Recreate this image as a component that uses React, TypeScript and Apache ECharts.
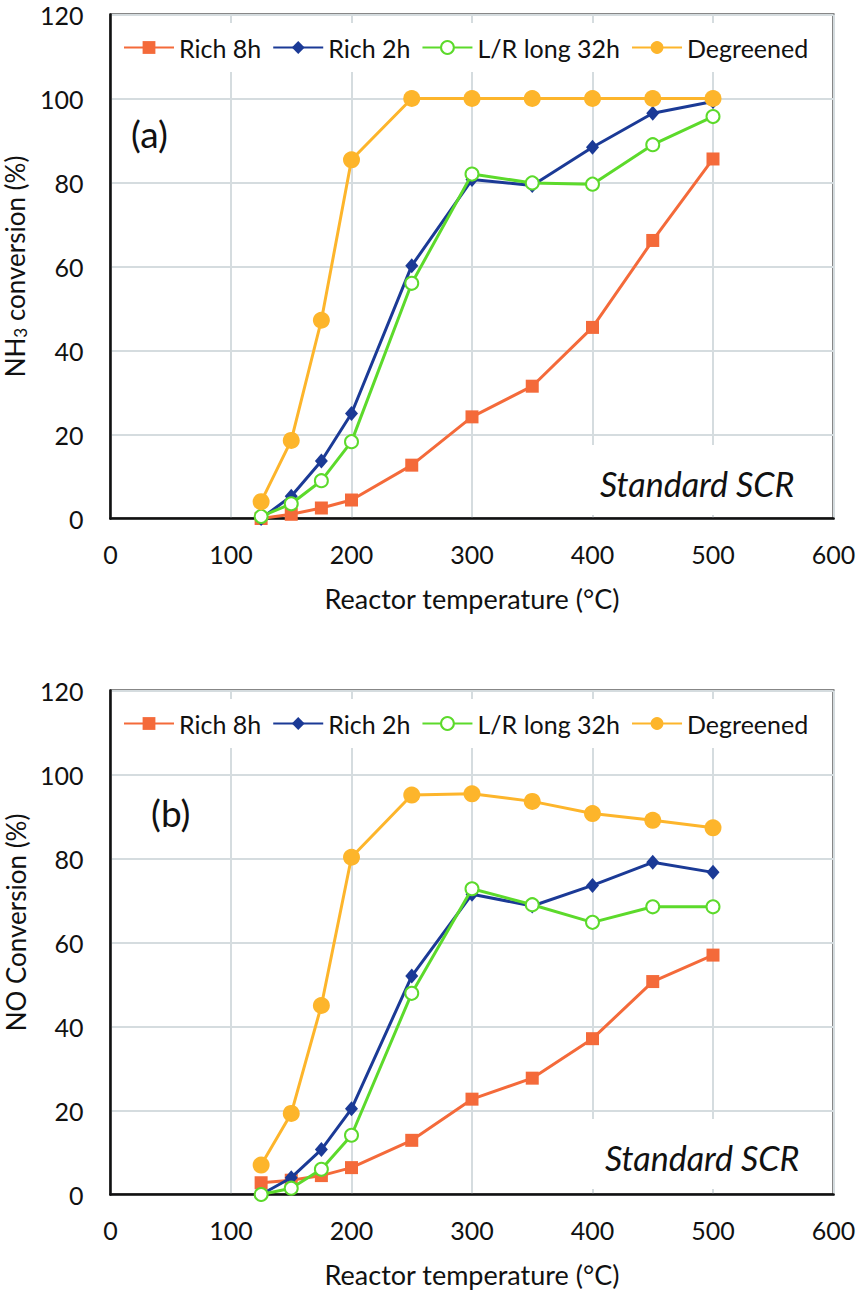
import React, { useEffect, useRef } from "react";
import * as echarts from "echarts";

const temps = [125, 150, 175, 200, 250, 300, 350, 400, 450, 500];
const seriesNames = ["Rich 8h", "Rich 2h", "L/R long 32h", "Degreened"];

// (a) NH3 conversion
const rich8hA = [0, 1, 2.5, 4.4, 12.7, 24.2, 31.5, 45.5, 66.2, 85.6];
const rich2hA = [0, 5.3, 13.7, 25, 60.2, 80.7, 79.3, 88.4, 96.5, 99.3];
const lrA = [0.5, 3.5, 9, 18.3, 56, 82, 79.9, 79.6, 89, 95.7];
const degA = [4, 18.6, 47.2, 85.4, 100, 100, 100, 100, 100, 100];

// (b) NO conversion
const rich8hB = [2.8, 3.4, 4.5, 6.4, 12.9, 22.7, 27.7, 37.1, 50.7, 57];
const rich2hB = [0, 4, 10.7, 20.4, 52, 71.5, 68.7, 73.6, 79.1, 76.7];
const lrB = [0, 1.5, 6, 14.1, 47.9, 72.8, 69, 64.8, 68.5, 68.5];
const degB = [7, 19.3, 45, 80.3, 95.1, 95.4, 93.6, 90.7, 89.1, 87.3];

const xTicks = [0, 100, 200, 300, 400, 500, 600];
const yTicks = [0, 20, 40, 60, 80, 100, 120];

const COLORS = ["#F46A3A", "#1B3A96", "#5CDA2B", "#FDB52B"];
const FONT = "Lato";

const W = 861;
const H = 1294;

export default function App() {
  const ref = useRef<HTMLDivElement>(null);

  useEffect(() => {
    document.body.style.margin = "0";
    if (!ref.current) return;
    const chart = echarts.init(ref.current, undefined, { renderer: "svg" });

    const pairs = (vals: number[]) => temps.map((t, i) => [t, vals[i]]);

    const makeSeries = (grid: number, sets: number[][]) =>
      sets.map((vals, i) => {
        const base: any = {
          name: seriesNames[i],
          type: "line",
          xAxisIndex: grid,
          yAxisIndex: grid,
          data: pairs(vals),
          lineStyle: { color: COLORS[i], width: 3 },
          itemStyle: { color: COLORS[i] },
          z: 2 + i * 0.1,
        };
        if (i === 0) {
          base.symbol = "rect";
          base.symbolSize = 13;
        } else if (i === 1) {
          base.symbol = "diamond";
          base.symbolSize = [13, 15];
        } else if (i === 2) {
          base.symbol = "emptyCircle";
          base.symbolSize = 13;
          base.itemStyle = { color: COLORS[i], borderColor: COLORS[i], borderWidth: 3 };
        } else {
          base.symbol = "circle";
          base.symbolSize = 17;
        }
        return base;
      });

    const grids = [
      { left: 110.5, top: 14.5, width: 723, height: 504 },
      { left: 110.5, top: 690.5, width: 723, height: 504 },
    ];

    const xAxisFor = (gi: number) => ({
      type: "value",
      gridIndex: gi,
      min: xTicks[0],
      max: xTicks[xTicks.length - 1],
      interval: 100,
      name: "Reactor temperature (°C)",
      nameLocation: "middle",
      nameGap: 66,
      nameTextStyle: { fontSize: 27, fontFamily: FONT, color: "#111" },
      axisLine: { show: true, onZero: false, lineStyle: { color: "#111", width: 2.5 } },
      axisTick: { show: false },
      axisLabel: { fontSize: 25, fontFamily: FONT, color: "#111", margin: 23 },
      splitLine: { show: true, lineStyle: { color: "#D5DCDF", width: 2 } },
    });

    const yAxisFor = (gi: number, name: string, rich: any, padding: number[], gap: number) => ({
      type: "value",
      gridIndex: gi,
      min: yTicks[0],
      max: yTicks[yTicks.length - 1],
      interval: 20,
      name,
      nameLocation: "middle",
      nameGap: gap,
      nameRotate: 90,
      nameTextStyle: { fontSize: 26, fontFamily: FONT, color: "#111", rich, padding },
      axisLine: { show: true, lineStyle: { color: "#111", width: 2.5 } },
      axisTick: { show: false },
      axisLabel: { fontSize: 25, fontFamily: FONT, color: "#111", margin: 27 },
      splitLine: { show: true, lineStyle: { color: "#D5DCDF", width: 2 } },
    });

    const richNH3 = {
      n: { fontSize: 26, fontFamily: FONT, color: "#111", lineHeight: 28 },
      s: { fontSize: 17, fontFamily: FONT, color: "#111", lineHeight: 12, verticalAlign: "bottom" },
    };

    const legendFor = (top: number) => ({
      data: seriesNames,
      left: 113,
      top,
      orient: "horizontal",
      itemWidth: 50,
      itemHeight: 16,
      itemGap: 11,
      padding: [12, 10, 12, 10],
      backgroundColor: "#ffffff",
      textStyle: { fontSize: 25, fontFamily: FONT, color: "#111" },
      z: 5,
    });

    const stdLabel = (y: number, x: number) => [
      {
        type: "rect",
        shape: { x: x - 20, y: y - 38, width: 832 - (x - 20), height: 70 },
        style: { fill: "#ffffff" },
        z: 1,
      },
      {
        type: "text",
        x,
        y,
        style: {
          text: "Standard SCR",
          fontSize: 34,
          fontFamily: FONT,
          fontStyle: "italic",
          fill: "#111",
          textVerticalAlign: "middle",
          verticalAlign: "middle",
        },
        z: 6,
      },
    ];

    chart.setOption({
      animation: false,
      backgroundColor: "#ffffff",
      grid: grids.map((g) => ({
        ...g,
        show: true,
        borderColor: "#111",
        borderWidth: 2,
        backgroundColor: "transparent",
        containLabel: false,
        outerBoundsMode: "none",
      })),
      xAxis: [xAxisFor(0), xAxisFor(1)],
      yAxis: [
        yAxisFor(0, "{n|NH}{s|3}{n| conversion (%)}", richNH3, [0, 0, 0, 0], 72),
        yAxisFor(1, "NO Conversion (%)", undefined, [0, 0, 0, 40], 76),
      ],
      legend: [legendFor(23), legendFor(699)],
      series: [
        ...makeSeries(0, [rich8hA, rich2hA, lrA, degA]),
        ...makeSeries(1, [rich8hB, rich2hB, lrB, degB]),
      ],
      graphic: [
        ...stdLabel(483, 600),
        ...stdLabel(1157, 605),
        {
          type: "text",
          x: 131,
          y: 133,
          style: { text: "(a)", fontSize: 37, fontFamily: FONT, fill: "#111", verticalAlign: "middle", textVerticalAlign: "middle" },
          z: 6,
        },
        {
          type: "text",
          x: 151,
          y: 812,
          style: { text: "(b)", fontSize: 37, fontFamily: FONT, fill: "#111", verticalAlign: "middle", textVerticalAlign: "middle" },
          z: 6,
        },
      ],
    });

    return () => chart.dispose();
  }, []);

  return <div ref={ref} style={{ width: W, height: H }} />;
}
